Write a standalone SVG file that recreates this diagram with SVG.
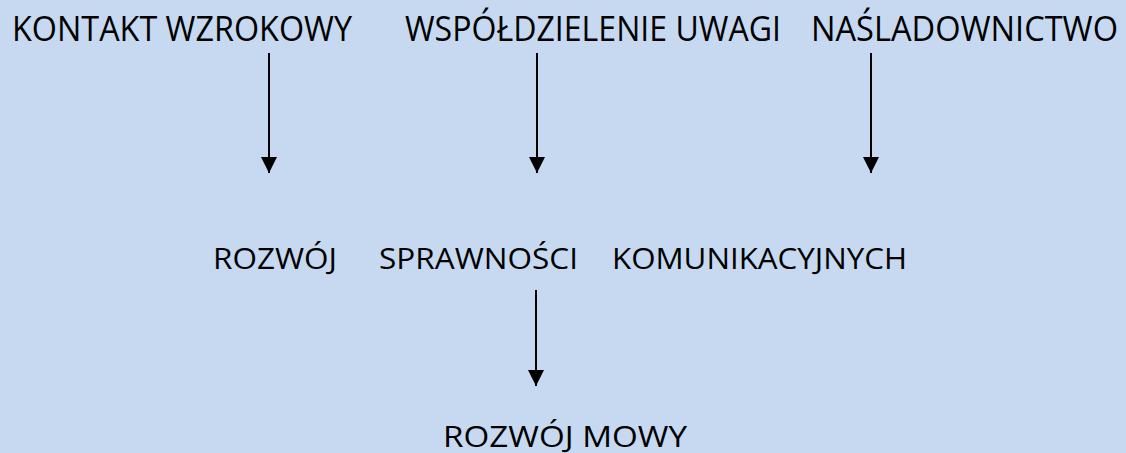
<svg xmlns="http://www.w3.org/2000/svg" width="1126" height="453" viewBox="0 0 1126 453">
<style>
.t{font-family:"Open Sans","Liberation Sans",sans-serif;fill:#000}
.big{font-size:35px}
.mid{font-size:29.5px}
.ln{stroke:#000;stroke-width:2;fill:none}
</style>
<defs>
<marker id="ah" markerWidth="16" markerHeight="16" refX="16" refY="8" orient="auto" markerUnits="userSpaceOnUse" viewBox="0 0 16 16">
<path d="M0,0 L16,8 L0,16 Z" fill="#000"/>
</marker>
</defs>
<rect width="1126" height="453" fill="#C6D9F1"/>
<g id="kontakt"><text class="t big" x="12" y="41" textLength="340" lengthAdjust="spacingAndGlyphs">KONTAKT WZROKOWY</text></g>
<g id="wspoldzielenie"><text class="t big" x="405" y="41" textLength="376" lengthAdjust="spacingAndGlyphs">WSPÓŁDZIELENIE UWAGI</text></g>
<g id="nasladownictwo"><text class="t big" x="811" y="41" textLength="307" lengthAdjust="spacingAndGlyphs">NAŚLADOWNICTWO</text></g>
<g id="rozwoj-sprawnosci">
<text class="t mid" y="269"><tspan x="213" textLength="124" lengthAdjust="spacingAndGlyphs">ROZWÓJ</tspan><tspan x="379" textLength="199" lengthAdjust="spacingAndGlyphs">SPRAWNOŚCI</tspan><tspan x="612" textLength="295" lengthAdjust="spacingAndGlyphs">KOMUNIKACYJNYCH</tspan></text>
</g>
<g id="rozwoj-mowy"><text class="t mid" x="443" y="447" textLength="244" lengthAdjust="spacingAndGlyphs">ROZWÓJ MOWY</text></g>
<g id="connectors">
<line class="ln" x1="269" y1="53" x2="269" y2="173" marker-end="url(#ah)"/>
<line class="ln" x1="537" y1="53" x2="537" y2="173" marker-end="url(#ah)"/>
<line class="ln" x1="871" y1="53" x2="871" y2="173" marker-end="url(#ah)"/>
<line class="ln" x1="536" y1="290" x2="536" y2="386" marker-end="url(#ah)"/>
</g>
</svg>
